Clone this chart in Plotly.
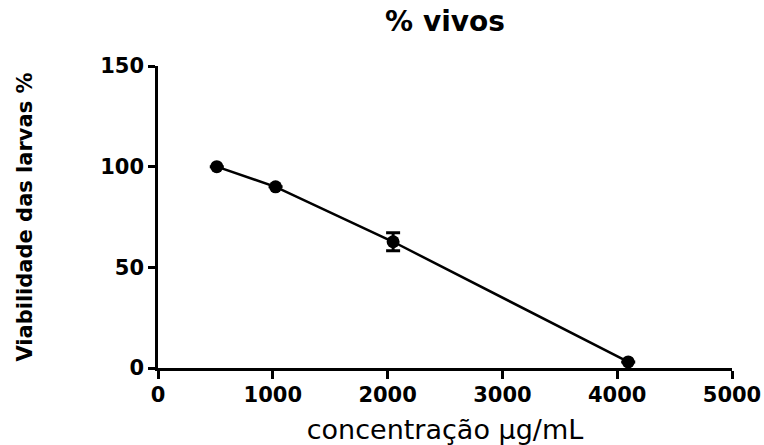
import plotly.graph_objects as go

conc = [512, 1024, 2048, 4096]
viab = [100, 90, 62.7, 3]
err = [0, 0, 4.5, 0]
x_ticks = [0, 1000, 2000, 3000, 4000, 5000]
y_ticks = [0, 50, 100, 150]

FONT = "DejaVu Sans, Liberation Sans, Arial, sans-serif"

fig = go.Figure()
fig.add_trace(go.Scatter(
    x=conc, y=viab,
    mode="lines+markers",
    line=dict(color="black", width=2.5),
    marker=dict(color="black", size=13, symbol="circle"),
    error_y=dict(type="data", array=err, visible=True, color="black", thickness=3, width=7),
    showlegend=False,
    cliponaxis=False,
))

fig.update_layout(
    width=764, height=445,
    margin=dict(l=158, r=32, t=66, b=77),
    paper_bgcolor="white", plot_bgcolor="white",
    title=dict(text="<b>% vivos</b>", x=0.5, xref="paper", xanchor="center",
               y=1 - 21 / 445, yref="container", yanchor="middle",
               font=dict(family=FONT, size=28, color="black")),
    font=dict(family=FONT, color="black"),
)
fig.update_xaxes(
    range=[0, 5000], tickvals=x_ticks, ticktext=[f"<b>{v}</b>" for v in x_ticks],
    showline=True, linecolor="black", linewidth=2.5,
    ticks="outside", ticklen=8, tickwidth=2.5, tickcolor="black",
    ticklabelstandoff=-2,
    showgrid=False, zeroline=False, automargin=False,
    tickfont=dict(family=FONT, size=21, color="black"),
    title=dict(text="concentração µg/mL", font=dict(family=FONT, size=27, color="black"), standoff=16),
)
fig.update_yaxes(
    range=[0, 150], tickvals=y_ticks, ticktext=[f"<b>{v}</b>" for v in y_ticks],
    showline=True, linecolor="black", linewidth=2.5,
    ticks="outside", ticklen=7, tickwidth=2.5, tickcolor="black",
    showgrid=False, zeroline=False, automargin=False,
    tickfont=dict(family=FONT, size=21, color="black"),
    title=dict(text="<b>Viabilidade das larvas %</b>", font=dict(family=FONT, size=21, color="black"), standoff=62),
)

fig.write_html("out.html", config={"displayModeBar": False},
               post_script="document.body.style.margin='0';")
